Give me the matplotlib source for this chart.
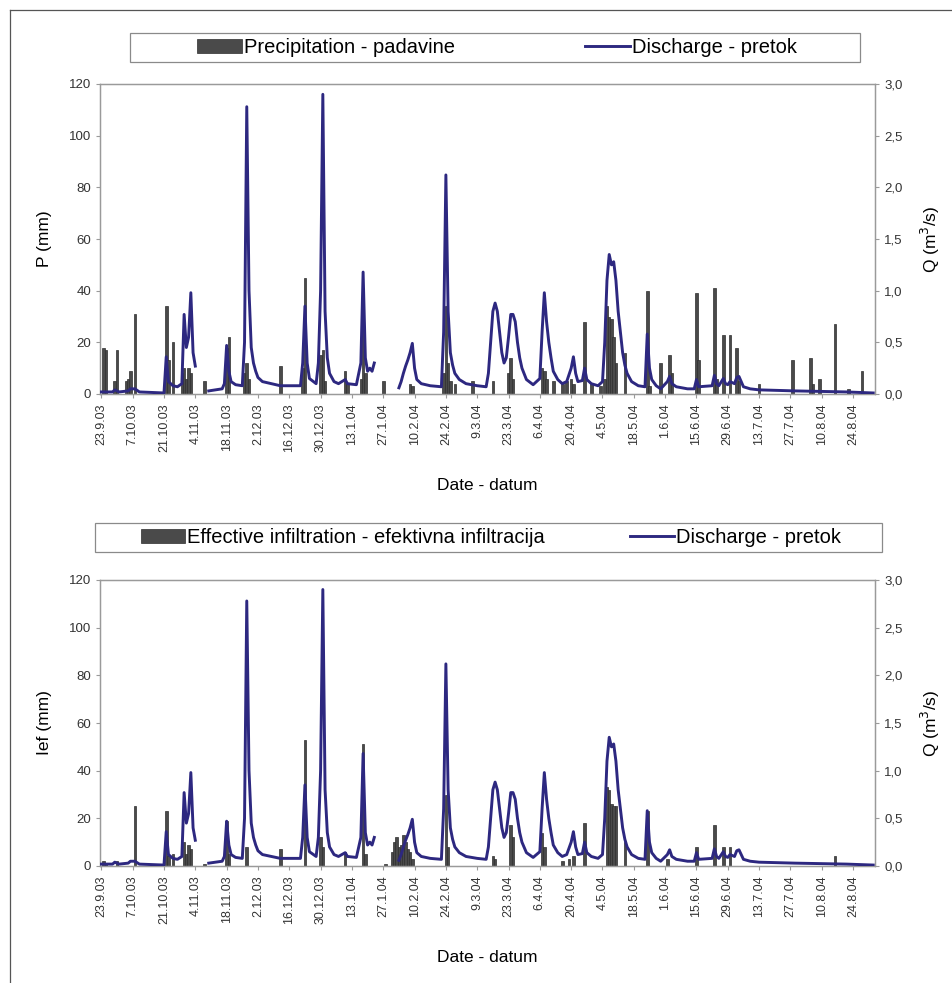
import matplotlib
matplotlib.use("Agg")
import matplotlib.pyplot as plt
import numpy as np
import pandas as pd
from matplotlib.patches import Rectangle, Patch
from matplotlib.lines import Line2D
from matplotlib.ticker import FuncFormatter

plt.rcParams['font.family'] = ['Liberation Sans', 'DejaVu Sans']

start = pd.Timestamp('2003-09-23')

# daily precipitation (day offset from 23.9.2003, mm)
p_day = [1, 2, 6, 7, 11, 12, 13, 15, 29, 30, 32, 36, 37, 38, 39, 40, 46, 56, 57,
         64, 65, 66, 80, 90, 91, 98, 99, 100, 109, 110, 116, 117, 118, 126, 138, 139,
         153, 154, 155, 156, 158, 166, 175, 182, 183, 184, 197, 198, 199, 202, 206,
         208, 210, 211, 216, 219, 223, 225, 226, 227, 228, 229, 230, 234, 244, 245,
         250, 254, 255, 266, 267, 274, 275, 278, 281, 284, 285, 294, 309, 317, 318,
         321, 328, 334, 340]
p_mm = [18, 17, 5, 17, 5, 6, 9, 31, 34, 13, 20, 8, 10, 6, 10, 8, 5, 18, 22,
        8, 12, 6, 11, 10, 45, 15, 17, 5, 9, 4, 6, 40, 8, 5, 4, 3,
        8, 34, 12, 5, 4, 5, 5, 8, 14, 6, 10, 9, 6, 5, 4,
        5, 6, 4, 28, 4, 3, 6, 34, 30, 29, 22, 12, 16, 40, 3,
        12, 15, 8, 39, 13, 41, 6, 23, 23, 18, 5, 4, 13, 14, 4,
        6, 27, 2, 9]

# effective infiltration (day offset, mm)
i_day = [1, 2, 7, 15, 29, 30, 32, 37, 38, 39, 40, 46, 56, 57, 65, 80, 91, 98, 99,
         109, 117, 118, 127, 130, 131, 132, 133, 134, 135, 136, 137, 138, 139, 154,
         155, 175, 176, 183, 184, 197, 198, 206, 209, 211, 216, 226, 227, 228, 229,
         230, 234, 244, 253, 266, 274, 278, 281, 328]
i_mm = [2, 1, 2, 25, 23, 4, 5, 10, 5, 9, 7, 1, 19, 5, 8, 7, 53, 12, 8,
        6, 51, 5, 1, 6, 10, 12, 8, 9, 13, 10, 7, 6, 3, 30,
        8, 4, 3, 17, 12, 14, 8, 2, 3, 4, 18, 33, 32, 26, 25,
        25, 10, 23, 3, 8, 17, 8, 8, 4]

# discharge (day offset, m3/s), nan = missing record
q_day = [0, 5, 6, 8, 12, 13, 15, 17, 28, 29, 30, 32, 34, 36, 37, 38, 39, 40, 41, 42, 43,
         48, 54, 55, 56, 57, 58, 60, 63, 64, 65, 66, 67, 68, 69, 70, 72, 76, 80, 89, 90,
         91, 92, 93, 96, 97, 98, 99, 100, 101, 102, 104, 106, 109, 110, 114, 116, 117,
         118, 119, 120, 121, 122, 123, 133, 134, 135, 136, 137, 138, 139, 140, 141, 143,
         147, 152, 153, 154, 155, 156, 157, 158, 160, 163, 168, 172, 173, 174, 175, 176,
         177, 178, 179, 180, 181, 182, 183, 184, 185, 186, 187, 188, 190, 193, 196, 197,
         198, 199, 200, 201, 202, 204, 206, 208, 210, 211, 212, 213, 215, 216, 217, 219,
         222, 224, 225, 226, 227, 228, 229, 230, 231, 232, 233, 234, 235, 237, 240, 243,
         244, 245, 246, 248, 250, 253, 254, 255, 257, 262, 265, 266, 267, 273, 274, 275,
         276, 278, 279, 280, 281, 283, 284, 285, 286, 287, 290, 294, 310, 333, 345]
q_val = [0.02, 0.02, 0.04, 0.02, 0.03, 0.05, 0.05, 0.02, 0.01, 0.36, 0.12, 0.08, 0.07,
         0.1, 0.77, 0.45, 0.55, 0.98, 0.4, 0.27, np.nan,
         0.03, 0.05, 0.1, 0.47, 0.22, 0.12, 0.09, 0.08, 0.5, 2.78, 1.0, 0.45, 0.3, 0.22,
         0.16, 0.12, 0.1, 0.08, 0.08, 0.3,
         0.85, 0.3, 0.15, 0.1, 0.3, 1.0, 2.9, 0.8, 0.35, 0.2, 0.12, 0.1, 0.14, 0.1, 0.09,
         0.3, 1.18, 0.35, 0.22, 0.25, 0.22, 0.3, np.nan, 0.06, 0.12, 0.2, 0.27, 0.33, 0.4,
         0.49, 0.25, 0.14, 0.1, 0.08, 0.07, 0.6, 2.12, 0.8, 0.4, 0.28, 0.2, 0.14, 0.1,
         0.08, 0.07, 0.2, 0.5, 0.8, 0.88, 0.8, 0.6, 0.4, 0.3, 0.35, 0.55, 0.77, 0.77,
         0.7, 0.5, 0.35, 0.25, 0.14, 0.09, 0.15, 0.6, 0.98, 0.7, 0.5, 0.35, 0.22, 0.14,
         0.1, 0.12, 0.25, 0.36, 0.2, 0.12, 0.13, 0.25, 0.14, 0.1, 0.08, 0.12, 0.5, 1.1,
         1.35, 1.25, 1.28, 1.1, 0.8, 0.6, 0.4, 0.28, 0.2, 0.12, 0.08, 0.07, 0.58, 0.25,
         0.14, 0.08, 0.05, 0.12, 0.17, 0.1, 0.07, 0.05, 0.05, 0.14, 0.07, 0.08, 0.18, 0.1,
         0.08, 0.15, 0.1, 0.09, 0.12, 0.1, 0.16, 0.17, 0.12, 0.07, 0.05, 0.04, 0.03,
         0.02, 0.01]

tick_dates = pd.date_range('2003-09-23', '2004-08-24', freq='14D')


def to_dates(days):
    return start + pd.to_timedelta(days, unit='D')


bar_col = '#4a4a4a'
bar_edge = '#2e2e2e'
line_col = '#2d2880'
grey = '#9a9a9a'

fig = plt.figure(figsize=(9.53, 9.83), dpi=100)

# outer frame of the figure
fig.add_artist(Line2D([10 / 953, 10 / 953], [0, 1 - 10 / 983], transform=fig.transFigure,
                      color='#555555', lw=0.9))
fig.add_artist(Line2D([10 / 953, 1], [1 - 10 / 983, 1 - 10 / 983], transform=fig.transFigure,
                      color='#555555', lw=0.9))

panels = [
    dict(rect=[100 / 953, 1 - 394 / 983, 775 / 953, 310 / 983], day=p_day, val=p_mm,
         ylab='P (mm)', bar_lab='Precipitation - padavine',
         box=(130, 33, 730, 29), cx=497, cs=6.5),
    dict(rect=[100 / 953, 1 - 866 / 983, 775 / 953, 286 / 983], day=i_day, val=i_mm,
         ylab='Ief (mm)', bar_lab='Effective infiltration - efektivna infiltracija',
         box=(95, 523, 787, 29), cx=491, cs=4.2),
]

for pn in panels:
    ax = fig.add_axes(pn['rect'])
    ax.bar(to_dates(pn['day']), pn['val'], width=1.15, color=bar_col, edgecolor=bar_edge,
           linewidth=0.5, zorder=2)
    ax.set_ylim(0, 120)
    ax.set_yticks(np.arange(0, 121, 20))
    ax.set_xlim(start - pd.Timedelta(days=0.6), start + pd.Timedelta(days=345.8))
    ax.set_xticks(tick_dates)
    ax.set_xticklabels([f"{d.day}.{d.month}.{d.strftime('%y')}" for d in tick_dates],
                       rotation=90, fontsize=9)
    ax.set_xlabel('Date - datum', fontsize=12.5, labelpad=19)
    ax.set_ylabel(pn['ylab'], fontsize=12.5, labelpad=12)
    ax.tick_params(axis='y', labelsize=9.5)

    ax2 = ax.twinx()
    ax2.plot(to_dates(q_day), q_val, color=line_col, lw=2.1, zorder=3)
    ax2.set_ylim(0, 3)
    ax2.set_yticks(np.arange(0, 3.01, 0.5))
    ax2.yaxis.set_major_formatter(FuncFormatter(lambda v, p: f"{v:.1f}".replace('.', ',')))
    ax2.set_ylabel('Q (m$^3$/s)', fontsize=12.5, labelpad=12)
    ax2.tick_params(axis='y', labelsize=9.5)

    for a in (ax, ax2):
        for s in a.spines.values():
            s.set_color(grey)
            s.set_linewidth(0.9)
        a.tick_params(colors=grey, labelcolor='#333333', length=3, width=0.8)

    # legend box
    bx, by, bw, bh = pn['box']
    fig.add_artist(Rectangle((bx / 953, 1 - (by + bh) / 983), bw / 953, bh / 983,
                             transform=fig.transFigure, facecolor='white',
                             edgecolor='#8a8a8a', lw=0.9))
    handles = [Patch(facecolor=bar_col, edgecolor=bar_edge, lw=0.5),
               Line2D([], [], color=line_col, lw=2.1)]
    fig.legend(handles, [pn['bar_lab'], 'Discharge - pretok'], loc='center',
               bbox_to_anchor=(pn['cx'] / 953, 1 - (by + bh / 2) / 983),
               ncol=2, frameon=False, fontsize=14.5, handlelength=2.2,
               handletextpad=0.1, columnspacing=pn['cs'], handleheight=0.75,
               borderpad=0.2)

fig.savefig('out.png', dpi=100)
